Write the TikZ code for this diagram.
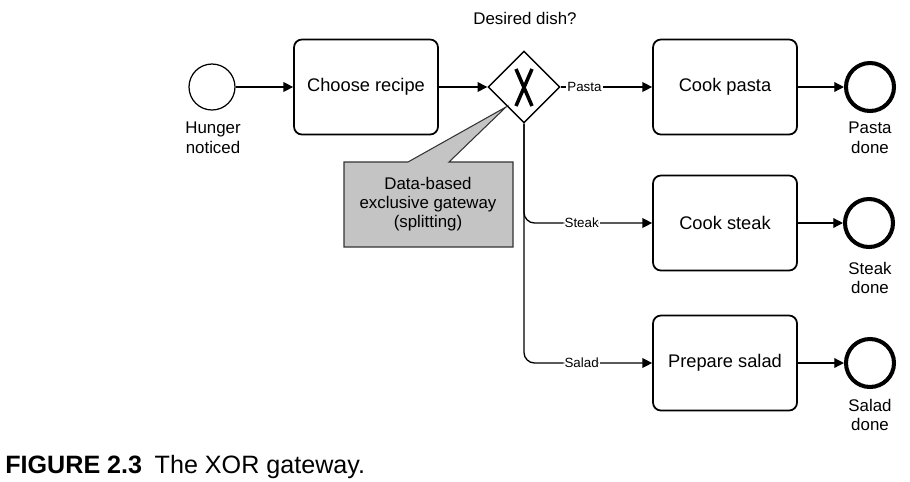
\documentclass[tikz,border=0pt]{standalone}
\usepackage{fontspec}
\setmainfont{Liberation Sans}
\usetikzlibrary{shapes.geometric,arrows.meta}

\tikzstyle{task}=[draw,rounded corners=4.5pt,line width=1pt,minimum width=2.88cm,minimum height=1.9cm,inner sep=0pt,font=\fontsize{10.4}{12}\selectfont]
\tikzstyle{startev}=[circle,draw,line width=0.7pt,minimum size=0.92cm,inner sep=0pt]
\tikzstyle{endev}=[circle,draw,line width=2.3pt,minimum size=0.96cm,inner sep=0pt]
\tikzstyle{gateway}=[diamond,draw,line width=0.8pt,minimum width=1.44cm,minimum height=1.44cm,inner sep=0pt]
\tikzstyle{flow}=[-{Triangle[length=5.5pt,width=5.5pt]},line width=0.75pt]
\tikzstyle{lbl}=[align=center,inner sep=0pt,font=\fontsize{9.6}{11.2}\selectfont]
\tikzstyle{cond}=[fill=white,inner sep=0.6pt,font=\fontsize{7.6}{9}\selectfont]
\tikzstyle{callout}=[fill=black!23,draw=black!80,line width=0.6pt]

\begin{document}
\begin{tikzpicture}[x=0.02cm,y=-0.02cm]
		\useasboundingbox (0,0) rectangle (910,481);
		\node[startev] (s) at (212,87) {};
		\node[task] (recipe) at (366,87) {Choose recipe};
		\node[gateway] (gw) at (524,87) {};
		\node[task] (pasta) at (725,87) {Cook pasta};
		\node[task] (steak) at (725,223) {Cook steak};
		\node[task] (salad) at (725,363) {Prepare salad};
		\node[endev] (ep) at (870,87) {};
		\node[endev] (et) at (869,223) {};
		\node[endev] (ea) at (870,363) {};
		% labels of events and gateway
		\node[lbl] (sl) at (213,138) {Hunger\\noticed};
		\node[lbl] (gl) at (525,18) {Desired dish?};
		\node[lbl] (epl) at (870,138) {Pasta\\done};
		\node[lbl] (etl) at (870,278) {Steak\\done};
		\node[lbl] (eal) at (870,415) {Salad\\done};
		\draw[line width=2pt] ([shift={(-8,-18)}]gw.center) -- ([shift={(8,19)}]gw.center);
		\draw[line width=2pt] ([shift={(8,-18)}]gw.center) -- ([shift={(-8,19)}]gw.center);
		% sequence flows
		\draw[flow] (s) -- (recipe);
		\draw[flow] (recipe) -- (gw);
		\draw[flow] (gw) -- node[cond,pos=0.26] {Pasta} (pasta);
		\draw[flow,rounded corners=6pt] (gw.south) |- node[cond,pos=0.725] {Steak} (steak);
		\draw[flow,rounded corners=6pt] (gw.south) |- node[cond,pos=0.725] {Salad} (salad);
		\draw[flow] (pasta) -- (ep);
		\draw[flow] (steak) -- (et);
		\draw[flow] (salad) -- (ea);
		% annotation
		\draw[callout] (344,162) -- (408,162) -- (506,107) -- (449,162) -- (513,162) -- (513,247) -- (344,247) -- cycle;
		\node[lbl,font=\fontsize{9.6}{10.8}\selectfont] (note) at (428,204) {Data-based\\exclusive gateway\\(splitting)};
		\node[anchor=base west,inner sep=0pt,font=\fontsize{14.3}{16}\selectfont] (cap) at (5,473) {\textbf{FIGURE 2.3}\hspace{0.5em}The XOR gateway.};
\end{tikzpicture}
\end{document}
